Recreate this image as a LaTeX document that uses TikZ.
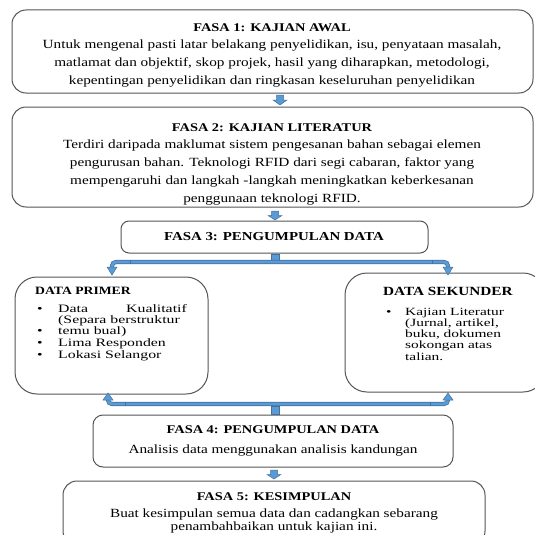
\documentclass[tikz,border=0pt]{standalone}
\usepackage{fontspec}
\setmainfont{Liberation Serif}[FakeStretch=1.22]
\newfontfamily\listfont{Liberation Serif}[FakeStretch=1.4]
\usetikzlibrary{arrows.meta}
\definecolor{arrblue}{HTML}{5B9BD5}
\definecolor{arredge}{HTML}{41719C}
\definecolor{boxedge}{HTML}{555555}
\tikzset{
  phasebox/.style={draw=boxedge, line width=1pt, rounded corners=14pt},
  sidebox/.style={draw=boxedge, line width=1pt, rounded corners=22pt},
  ttl/.style={font=\bfseries\fontsize{11.8}{14}\selectfont, inner sep=0pt},
  body/.style={font=\fontsize{12.5}{18}\selectfont, align=center, inner sep=0pt},
  lstl/.style={font=\listfont\fontsize{11.3}{11}\selectfont, anchor=base west, inner sep=0pt},
  lstr/.style={font=\listfont\fontsize{11}{11}\selectfont, anchor=base west, inner sep=0pt},
  blockarrow/.style={fill=arrblue, draw=arredge, line width=0.5pt},
  bar/.style={draw=arredge, line width=4.2pt},
  barin/.style={draw=arrblue, line width=2.8pt},
}
\begin{document}
\begin{tikzpicture}[x=1pt,y=-1pt]
\useasboundingbox (0,0) rectangle (535,535);
% boxes
\draw[phasebox] (12,10) rectangle (533,93);
\node[ttl] (t1) at (272,28) {FASA 1: KAJIAN AWAL};
\node[body] (b1) at (272,64) {Untuk mengenal pasti latar belakang penyelidikan, isu, penyataan masalah,\\matlamat dan objektif, skop projek, hasil yang diharapkan, metodologi,\\kepentingan penyelidikan dan ringkasan keseluruhan penyelidikan};

\draw[phasebox] (12,107) rectangle (533,207);
\node[ttl] (t2) at (272,128) {FASA 2: KAJIAN LITERATUR};
\node[body] (b2) at (272,173) {Terdiri daripada maklumat sistem pengesanan bahan sebagai elemen\\pengurusan bahan. Teknologi RFID dari segi cabaran, faktor yang\\mempengaruhi dan langkah -langkah meningkatkan keberkesanan\\penggunaan teknologi RFID.};

\draw[phasebox, rounded corners=8pt] (121,221) rectangle (428,253);
\node[ttl, font=\bfseries\fontsize{12.2}{14}\selectfont] (t3) at (274,237) {FASA 3: PENGUMPULAN DATA};

\draw[sidebox] (15,277) rectangle (208,394);
\node[ttl, font=\bfseries\fontsize{11.2}{13}\selectfont, anchor=base west] (tp) at (35,294) {DATA PRIMER};
\foreach \y in {312,334,346,358} \node[lstl] at (37,\y) {\textbullet};
\node[lstl] (p1) at (58,312) {Data};
\node[lstl, anchor=base east] (p1b) at (187,312) {Kualitatif};
\node[lstl] (p2) at (58,323) {(Separa berstruktur};
\node[lstl] (p3) at (58,334) {temu bual)};
\node[lstl] (p4) at (58,346) {Lima Responden};
\node[lstl] (p5) at (58,358) {Lokasi Selangor};

\draw[sidebox] (345,273) rectangle (545,392);
\node[ttl, font=\bfseries\fontsize{12.5}{14}\selectfont, anchor=base west] (ts) at (383,295) {DATA SEKUNDER};
\node[lstr] at (386,315) {\textbullet};
\node[lstr] (s1) at (405,315) {Kajian Literatur};
\node[lstr] (s2) at (405,326) {(Jurnal, artikel,};
\node[lstr] (s3) at (405,337) {buku, dokumen};
\node[lstr] (s4) at (405,348) {sokongan atas};
\node[lstr] (s5) at (405,360) {talian.};

\draw[phasebox, rounded corners=10pt] (93,415) rectangle (453,467);
\node[ttl] (t4) at (273,430) {FASA 4: PENGUMPULAN DATA};
\node[body] (b4) at (273,451) {Analisis data menggunakan analisis kandungan};

\draw[phasebox] (63,481) rectangle (485,545);
\node[ttl] (t5) at (274,497) {FASA 5: KESIMPULAN};
\node[body, font=\fontsize{12.5}{13}\selectfont] (b5) at (274,521) {Buat kesimpulan semua data dan cadangkan sebarang\\penambahbaikan untuk kajian ini.};

% down block arrows
\foreach \cx/\ya/\yb in {280/95/105, 275/211/220, 274/470/479}{
  \draw[blockarrow] (\cx-3.5,\ya) -- (\cx+3.5,\ya) -- (\cx+3.5,{(\ya+\yb)/2}) -- (\cx+7,{(\ya+\yb)/2})
    -- (\cx,\yb) -- (\cx-7,{(\ya+\yb)/2}) -- (\cx-3.5,{(\ya+\yb)/2}) -- cycle;
}
% top bracket
\draw[blockarrow] (271,254) rectangle (279,261);
\draw[bar, rounded corners=4pt] (112,268) -- (112,262) -- (448,262) -- (448,268);
\draw[barin, rounded corners=4pt] (112,268) -- (112,262) -- (448,262) -- (448,268);
\draw[arredge, line width=0.6pt] (130,260) -- (130,264) (432,260) -- (432,264);
\foreach \cx in {112,448}
  \draw[blockarrow] (\cx-5,267) -- (\cx+5,267) -- (\cx,275) -- cycle;

% bottom bracket
\draw[blockarrow] (271,406) rectangle (279,414);
\draw[bar, rounded corners=4pt] (108,399) -- (108,404) -- (448,404) -- (448,399);
\draw[barin, rounded corners=4pt] (108,399) -- (108,404) -- (448,404) -- (448,399);
\draw[arredge, line width=0.6pt] (125,402) -- (125,406) (430,402) -- (430,406);
\foreach \cx in {108,448}
  \draw[blockarrow] (\cx-5,400) -- (\cx+5,400) -- (\cx,393) -- cycle;
\end{tikzpicture}
\end{document}
